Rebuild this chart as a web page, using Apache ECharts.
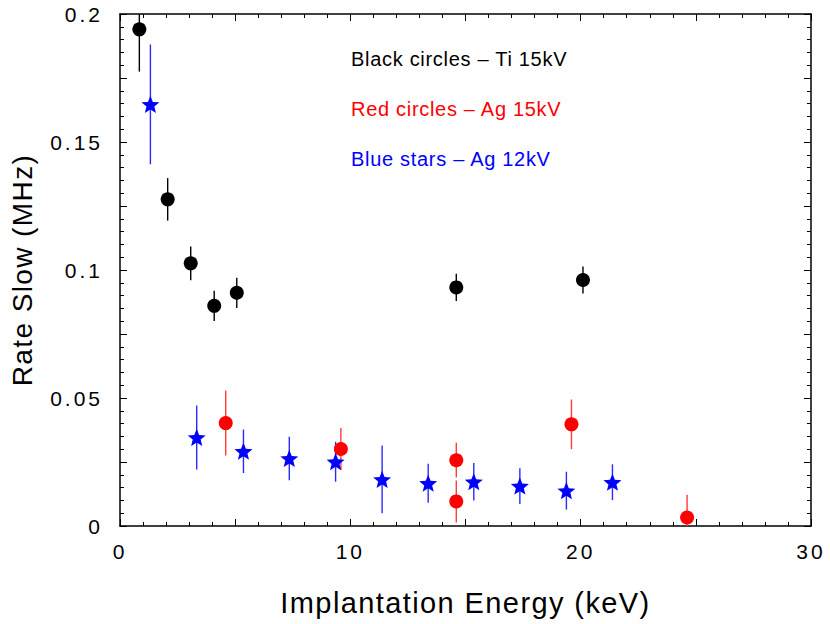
<!DOCTYPE html>
<html>
<head>
<meta charset="utf-8">
<script src="https://cdn.jsdelivr.net/npm/echarts@6/dist/echarts.min.js"></script>
<style>
html,body{margin:0;padding:0;background:#fff;}
#main{width:830px;height:624px;}
</style>
</head>
<body>
<div id="main"></div>
<script>
// ---- data ----
const blackX   = [0.84, 2.07, 3.07, 4.09, 5.07, 14.6, 20.1];
const blackY   = [0.194, 0.1276, 0.1026, 0.086, 0.0911, 0.0932, 0.0961];
const blackErr = [0.0165, 0.0083, 0.0066, 0.0059, 0.0059, 0.0053, 0.0053];

const redX   = [4.59, 9.59, 14.6, 14.6, 19.6, 24.62];
const redY   = [0.0402, 0.0301, 0.0257, 0.0096, 0.0397, 0.0033];
const redErr = [0.0127, 0.0082, 0.0068, 0.0082, 0.0097, 0.0089];

const blueX   = [1.32, 3.33, 5.36, 7.35, 9.36, 11.38, 13.38, 15.36, 17.36, 19.38, 21.38];
const blueY   = [0.1647, 0.0346, 0.0292, 0.0264, 0.0251, 0.0182, 0.0167, 0.0173, 0.0156, 0.0138, 0.0171];
const blueErr = [0.0234, 0.0125, 0.0085, 0.0085, 0.0078, 0.0132, 0.0076, 0.0073, 0.007, 0.0074, 0.007];

const xTicks = [0, 10, 20, 30];
const yTicks = [0, 0.05, 0.1, 0.15, 0.2];

const notes = ['Black circles \u2013 Ti 15kV', 'Red circles \u2013 Ag 15kV', 'Blue stars \u2013 Ag 12kV'];

// ---- build ----
const FONT = "'Liberation Sans', Arial, Helvetica, sans-serif";
const STAR = 'path://M50 0 L62.93 32.2 L97.55 34.55 L70.92 56.8 L79.39 90.45 L50 72 L20.61 90.45 L29.08 56.8 L2.45 34.55 L37.07 32.2 Z';

function pts(xs, ys) { return xs.map((x, i) => [x, ys[i]]); }
function errs(xs, ys, es) { return xs.map((x, i) => [x, ys[i], es[i]]); }
function errSeries(data, color) {
  return {
    type: 'custom', clip: true, z: 2, silent: true,
    data: data,
    renderItem: function (params, api) {
      const x = api.value(0), y = api.value(1), e = api.value(2);
      const p1 = api.coord([x, y - e]), p2 = api.coord([x, y + e]);
      return { type: 'line', shape: { x1: p1[0], y1: p1[1], x2: p2[0], y2: p2[1] },
               style: { stroke: color, lineWidth: 1.4 } };
    }
  };
}
function isTick(v, list) { return list.some(t => Math.abs(t - v) < 1e-9); }

const axisLineStyle = { color: '#000', width: 1.5 };
function xAx(pos, show) {
  return {
    type: 'value', position: pos, min: 0, max: 30, interval: 5,
    axisLine: { show: true, lineStyle: axisLineStyle, onZero: false },
    axisTick: { show: true, inside: true, length: 7, lineStyle: { color: '#000', width: 1 } },
    minorTick: { show: true, splitNumber: 5, length: 4, lineStyle: { color: '#000', width: 1 } },
    splitLine: { show: false },
    axisLabel: show ? {
      show: true, margin: 15, fontSize: 21, color: '#000', fontFamily: FONT,
      formatter: v => isTick(v, xTicks) ? String(v) : ''
    } : { show: false },
    name: show ? 'Implantation Energy (keV)' : '',
    nameLocation: 'middle', nameGap: 62,
    nameTextStyle: { fontSize: 29, color: '#000', fontFamily: FONT }
  };
}
function yAx(pos, show) {
  return {
    type: 'value', position: pos, min: 0, max: 0.2, interval: 0.025,
    axisLine: { show: true, lineStyle: axisLineStyle, onZero: false },
    axisTick: { show: true, inside: true, length: 7, lineStyle: { color: '#000', width: 1 } },
    minorTick: { show: true, splitNumber: 5, length: 4, lineStyle: { color: '#000', width: 1 } },
    splitLine: { show: false },
    axisLabel: show ? {
      show: true, margin: 17, fontSize: 21, color: '#000', fontFamily: FONT,
      formatter: v => isTick(v, yTicks) ? String(+v.toFixed(3)) : ''
    } : { show: false },
    name: show ? 'Rate Slow (MHz)' : '',
    nameLocation: 'middle', nameGap: 84, nameRotate: 90,
    nameTextStyle: { fontSize: 28, color: '#000', fontFamily: FONT }
  };
}

const noteColors = ['#000000', '#ff0000', '#0000ff'];
const noteY = [60, 110, 160];

const option = {
  animation: false,
  backgroundColor: '#fff',
  grid: { left: 120, top: 14, right: 19, bottom: 98, containLabel: false },
  xAxis: [xAx('bottom', true), xAx('top', false)],
  yAxis: [yAx('left', true), yAx('right', false)],
  graphic: notes.map((t, i) => ({
    type: 'text', left: 351, top: noteY[i] - 11, silent: true,
    style: { text: t, fill: noteColors[i], fontSize: 20, fontFamily: FONT }
  })),
  series: [
    errSeries(errs(blackX, blackY, blackErr), '#000000'),
    errSeries(errs(redX, redY, redErr), '#ff3b3b'),
    errSeries(errs(blueX, blueY, blueErr), '#2a2aff'),
    { type: 'scatter', z: 3, data: pts(blackX, blackY), symbol: 'circle', symbolSize: 14,
      itemStyle: { color: '#000', opacity: 1 } },
    { type: 'scatter', z: 3, data: pts(redX, redY), symbol: 'circle', symbolSize: 14,
      itemStyle: { color: '#ff0000', opacity: 1 } },
    { type: 'scatter', z: 3, data: pts(blueX, blueY), symbol: STAR, symbolSize: 18,
      symbolKeepAspect: true, itemStyle: { color: '#0000ff', opacity: 1 } }
  ]
};

const chart = echarts.init(document.getElementById('main'), null, { renderer: 'svg' });
chart.setOption(option);

// widen spacing of the texts, like the original
document.querySelectorAll('#main svg text').forEach(t => {
  const s = t.textContent.trim();
  if (/^[0-9.]+$/.test(s)) t.setAttribute('letter-spacing', '3');
  else if (s.indexOf('Implantation') === 0 || s.indexOf('Rate') === 0) t.setAttribute('letter-spacing', '1.4');
  else if (s.indexOf('circles') >= 0 || s.indexOf('stars') >= 0) t.setAttribute('letter-spacing', '0.7');
});
</script>
</body>
</html>
